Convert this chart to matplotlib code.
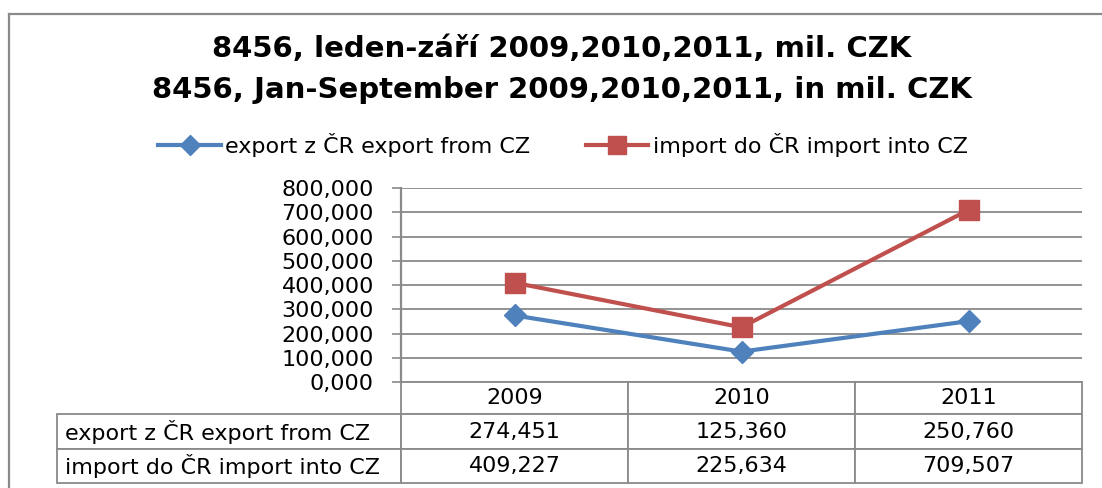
import matplotlib
matplotlib.use("Agg")
import matplotlib.pyplot as plt
from matplotlib.table import Table
from matplotlib.lines import Line2D
from matplotlib.ticker import FuncFormatter

plt.rcParams['font.family'] = ['DejaVu Sans']

years = ["2009", "2010", "2011"]
export_vals = [274.451, 125.360, 250.760]
import_vals = [409.227, 225.634, 709.507]
series_names = ["export z ČR export from CZ", "import do ČR import into CZ"]
title_lines = ["8456, leden-září 2009,2010,2011, mil. CZK",
               "8456, Jan-September 2009,2010,2011, in mil. CZK"]
y_ticks = [0, 100, 200, 300, 400, 500, 600, 700, 800]

W, H = 1102, 488
fig = plt.figure(figsize=(W / 100, H / 100), dpi=100)

def fx(px):
    return px / W

def fy(py):
    return 1 - py / H

GRAY = "#8a8a8a"
BLUE = "#4F81BD"
RED = "#C0504D"
FS = 16

# outer border (top + left)
fig.add_artist(Line2D([fx(9), 1.0], [fy(14), fy(14)], color=GRAY, lw=1.6))
fig.add_artist(Line2D([fx(9), fx(9)], [fy(14), 0.0], color=GRAY, lw=1.6))

# title
fig.text(fx(562), fy(49), title_lines[0], ha="center", va="center",
         fontsize=21, fontweight="bold")
fig.text(fx(562), fy(90), title_lines[1], ha="center", va="center",
         fontsize=21, fontweight="bold")

ax_l, ax_r, ax_t, ax_b = 401, 1082, 188, 382
ax = fig.add_axes([fx(ax_l), fy(ax_b), fx(ax_r - ax_l), (ax_b - ax_t) / H])

x = list(range(len(years)))
ax.plot(x, export_vals, color=BLUE, lw=3, marker="D", ms=11,
        markeredgecolor=BLUE, label=series_names[0], zorder=3)
ax.plot(x, import_vals, color=RED, lw=3, marker="s", ms=14,
        markeredgecolor=RED, label=series_names[1], zorder=3)

ax.set_xlim(-0.5, len(years) - 0.5)
ax.set_ylim(0, 800)
ax.set_yticks(y_ticks)
ax.yaxis.set_major_formatter(FuncFormatter(lambda v, p: f"{v:.3f}".replace(".", ",")))
ax.tick_params(axis="y", labelsize=FS, length=6.5, width=1.2, color=GRAY, pad=13)
ax.set_xticks([])
ax.grid(axis="y", color=GRAY, lw=1.3)
ax.set_axisbelow(True)
for s in ["top", "right", "bottom"]:
    ax.spines[s].set_visible(False)
ax.spines["left"].set_color(GRAY)
ax.spines["left"].set_linewidth(1.6)

# data table
tab = Table(ax)
ax_h = ax_b - ax_t
ax_w = ax_r - ax_l
row_px = [32, 35, 34]
col_w = 1.0 / len(years)
lab_w = (ax_l - 57) / ax_w
for c, yr in enumerate(years):
    tab.add_cell(0, c, width=col_w, height=row_px[0] / ax_h, text=yr, loc="center")
rows = [export_vals, import_vals]
for r, vals in enumerate(rows, start=1):
    h = row_px[r] / ax_h
    cell = tab.add_cell(r, -1, width=lab_w, height=h, text=series_names[r - 1], loc="left")
    cell.PAD = 0.022
    for c, v in enumerate(vals):
        tab.add_cell(r, c, width=col_w, height=h, text=f"{v:.3f}".replace(".", ","), loc="center")
total_h = sum(row_px) / ax_h
for (r, c), cell in tab.get_celld().items():
    cell.set_edgecolor(GRAY)
    cell.set_linewidth(1.3)
tab.auto_set_font_size(False)
tab.set_fontsize(FS)
tab._bbox = [0, -total_h, 1, total_h]
tab.set_clip_on(False)
ax.add_table(tab)

# legend
fig.legend(loc="center", bbox_to_anchor=(fx(563), fy(145)), ncol=2, frameon=False,
           fontsize=FS, handlelength=2.8, handletextpad=0.2, columnspacing=2.5,
           borderpad=0, markerscale=0.9)

fig.savefig("out.png", dpi=100)
